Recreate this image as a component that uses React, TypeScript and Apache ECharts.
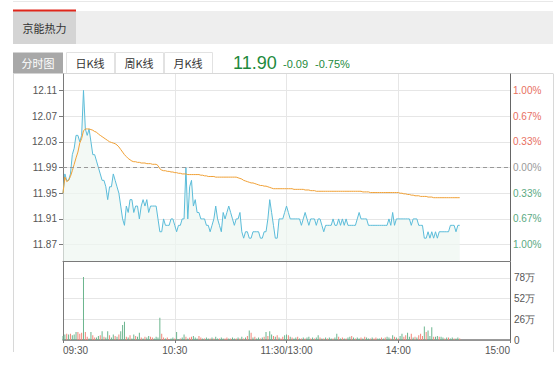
import React, { useEffect, useRef } from "react";
import * as echarts from "echarts";

const PREV_CLOSE = 11.99;
const SPAN = 0.1455;
const priceTicks = [11.87, 11.91, 11.95, 11.99, 12.03, 12.07, 12.11];
const volumeTicks = [0, 26, 52, 78];
const timeLabels = ["09:30", "10:30", "11:30/13:00", "14:00", "15:00"];
const tabs = ["分时图", "日K线", "周K线", "月K线"];

const prices = [
  11.95, 11.98, 11.97, 11.97, 11.98, 12.01, 12.02, 12.04, 12.04, 12.03,
  12.04, 12.11, 12.05, 12.04, 12.05, 12.03, 12.01, 12.01, 12.0, 11.99,
  11.98, 11.97, 11.97, 11.96, 11.94, 11.96, 11.96, 11.98, 11.97, 11.96,
  11.95, 11.93, 11.91, 11.9, 11.93, 11.92, 11.94, 11.94, 11.92, 11.93,
  11.93, 11.91, 11.93, 11.94, 11.93, 11.94, 11.92, 11.93, 11.93, 11.93,
  11.93, 11.91, 11.89, 11.89, 11.91, 11.9, 11.9, 11.9, 11.91, 11.91,
  11.9, 11.89, 11.9, 11.9, 11.91, 11.91, 11.99, 11.91, 11.96, 11.97,
  11.93, 11.94, 11.92, 11.92, 11.91, 11.91, 11.91, 11.9, 11.9, 11.89,
  11.9, 11.91, 11.93, 11.91, 11.9, 11.89, 11.92, 11.91, 11.92, 11.93,
  11.92, 11.91, 11.9, 11.91, 11.91, 11.92, 11.89, 11.88, 11.89, 11.89,
  11.88, 11.88, 11.89, 11.89, 11.89, 11.89, 11.88, 11.88, 11.89, 11.89,
  11.91, 11.94, 11.92, 11.9, 11.88, 11.88, 11.91, 11.91, 11.91, 11.92,
  11.93, 11.92, 11.91, 11.91, 11.91, 11.91, 11.91, 11.91, 11.9, 11.91,
  11.92, 11.91, 11.9, 11.91, 11.91, 11.91, 11.9, 11.91, 11.91, 11.9,
  11.89, 11.9, 11.9, 11.9, 11.9, 11.91, 11.9, 11.9, 11.91, 11.9,
  11.91, 11.9, 11.91, 11.9, 11.9, 11.9, 11.9, 11.9, 11.91, 11.92,
  11.91, 11.91, 11.91, 11.91, 11.9, 11.9, 11.9, 11.9, 11.9, 11.9,
  11.9, 11.9, 11.9, 11.9, 11.9, 11.91, 11.9, 11.92, 11.9, 11.91,
  11.91, 11.91, 11.91, 11.91, 11.91, 11.91, 11.91, 11.9, 11.91, 11.91,
  11.91, 11.9, 11.9, 11.9, 11.88, 11.88, 11.89, 11.88, 11.89, 11.88,
  11.89, 11.88, 11.89, 11.89, 11.89, 11.89, 11.89, 11.89, 11.9, 11.9,
  11.9, 11.89, 11.9, 11.9,
];

const avgPrices = [
  11.95, 11.975, 11.968, 11.97, 11.976, 11.985, 11.995, 12.005, 12.014, 12.028,
  12.035, 12.047, 12.05, 12.05, 12.05, 12.049, 12.048, 12.046, 12.045, 12.042,
  12.04, 12.038, 12.036, 12.034, 12.032, 12.03, 12.029, 12.028, 12.027, 12.025,
  12.022, 12.018, 12.014, 12.01, 12.007, 12.004, 12.002, 12.0, 11.999, 11.999,
  11.998, 11.998, 11.997, 11.997, 11.997, 11.996, 11.996, 11.996, 11.995, 11.995,
  11.995, 11.993, 11.988, 11.986, 11.985, 11.985, 11.984, 11.984, 11.983, 11.983,
  11.982, 11.982, 11.981, 11.981, 11.98, 11.98, 11.98, 11.979, 11.979, 11.979,
  11.979, 11.979, 11.979, 11.979, 11.978, 11.978, 11.977, 11.977, 11.976, 11.976,
  11.976, 11.976, 11.975, 11.975, 11.975, 11.975, 11.975, 11.975, 11.975, 11.975,
  11.975, 11.975, 11.975, 11.975, 11.974, 11.973, 11.972, 11.97, 11.969, 11.968,
  11.967, 11.966, 11.966, 11.965, 11.964, 11.963, 11.962, 11.962, 11.961, 11.961,
  11.96, 11.959, 11.958, 11.957, 11.957, 11.957, 11.957, 11.957, 11.957, 11.957,
  11.957, 11.957, 11.957, 11.957, 11.956, 11.956, 11.956, 11.956, 11.956, 11.956,
  11.955, 11.955, 11.955, 11.954, 11.954, 11.954, 11.953, 11.953, 11.953, 11.953,
  11.953, 11.953, 11.953, 11.953, 11.953, 11.953, 11.953, 11.953, 11.953, 11.953,
  11.953, 11.953, 11.953, 11.953, 11.953, 11.953, 11.953, 11.953, 11.953, 11.953,
  11.953, 11.952, 11.952, 11.952, 11.952, 11.951, 11.951, 11.951, 11.951, 11.951,
  11.951, 11.951, 11.951, 11.951, 11.951, 11.951, 11.951, 11.951, 11.951, 11.951,
  11.951, 11.95, 11.95, 11.949, 11.949, 11.948, 11.948, 11.947, 11.947, 11.946,
  11.946, 11.946, 11.945, 11.945, 11.945, 11.945, 11.944, 11.944, 11.944, 11.943,
  11.943, 11.943, 11.943, 11.943, 11.943, 11.943, 11.943, 11.943, 11.943, 11.943,
  11.943, 11.943, 11.943, 11.943,
];

// volume in 万
const volumes = [
  5, 7, 8, 7, 8, 6, 7, 10, 10, 8,
  9, 79, 10, 4, 2, 10, 6, 3, 3, 5,
  6, 11, 4, 3, 11, 6, 3, 7, 5, 4,
  7, 11, 19, 23, 4, 3, 6, 2, 7, 5,
  4, 9, 3, 2, 4, 3, 5, 4, 3, 2,
  4, 3, 28, 8, 3, 2, 3, 1, 2, 3,
  2, 10, 1, 2, 3, 7, 4, 2, 3, 4,
  5, 3, 2, 5, 3, 2, 2, 3, 2, 2,
  3, 2, 4, 2, 2, 3, 2, 2, 3, 2,
  2, 3, 2, 2, 3, 2, 4, 2, 3, 5,
  12, 9, 3, 4, 2, 3, 2, 3, 4, 10,
  5, 11, 7, 5, 4, 6, 3, 2, 4, 6,
  7, 6, 4, 3, 2, 3, 4, 2, 2, 3,
  2, 3, 4, 2, 3, 2, 3, 6, 3, 2,
  2, 3, 2, 3, 2, 2, 3, 8, 4, 2,
  3, 2, 2, 3, 4, 5, 3, 2, 3, 2,
  3, 2, 4, 3, 2, 2, 3, 2, 3, 2,
  2, 3, 2, 3, 4, 3, 2, 6, 4, 3,
  2, 5, 8, 4, 6, 9, 4, 8, 3, 4,
  3, 6, 8, 5, 17, 10, 12, 5, 16, 4,
  4, 5, 4, 4, 3, 2, 3, 3, 2, 3,
  2, 2, 3, 2,
];

// 1 = red (up), 0 = green (down)
const volumeUp = [
  0, 0, 1, 0, 1, 0, 0, 0, 1, 1,
  1, 0, 1, 1, 0, 0, 1, 1, 0, 0,
  1, 0, 1, 0, 0, 1, 0, 0, 1, 0,
  1, 0, 0, 0, 1, 0, 1, 0, 0, 1,
  0, 0, 1, 0, 1, 0, 0, 1, 1, 0,
  0, 0, 0, 1, 1, 0, 1, 1, 0, 0,
  1, 0, 0, 1, 0, 0, 1, 0, 1, 1,
  0, 0, 0, 1, 1, 0, 1, 0, 0, 1,
  0, 1, 0, 0, 1, 0, 0, 1, 1, 0,
  1, 0, 0, 1, 0, 1, 0, 1, 0, 1,
  0, 1, 0, 1, 0, 0, 1, 0, 1, 0,
  1, 0, 0, 1, 0, 1, 0, 1, 1, 0,
  0, 1, 0, 1, 0, 0, 1, 0, 1, 0,
  1, 0, 0, 1, 0, 1, 0, 0, 1, 0,
  1, 0, 1, 0, 0, 1, 0, 0, 1, 0,
  1, 0, 1, 0, 0, 1, 0, 1, 0, 0,
  1, 0, 1, 0, 0, 1, 0, 1, 1, 0,
  0, 1, 0, 1, 0, 0, 1, 0, 1, 0,
  1, 0, 0, 1, 1, 0, 0, 1, 0, 1,
  0, 1, 1, 1, 0, 1, 0, 0, 0, 1,
  0, 0, 1, 0, 0, 1, 0, 1, 0, 0,
  1, 0, 0, 1,
];

const pad = (n: number) => (n < 10 ? "0" + n : "" + n);
const categories: string[] = [];
for (let i = 0; i <= 240; i++) {
  const m = i <= 120 ? 9 * 60 + 30 + i : 13 * 60 + (i - 120);
  categories.push(pad(Math.floor(m / 60)) + ":" + pad(m % 60));
}

const LABEL_FONT = "Liberation Sans";
const CJK_FONT = "Noto Sans CJK SC";
const RED = "#e8705f";
const GREEN = "#5aa97f";
const GRID_LINE = "#e6e6e6";
const AXIS_LINE = "#7a7a7a";
const LABEL_SIZE = 10;

export default function App() {
  const ref = useRef<HTMLDivElement>(null);
  useEffect(() => {
    if (!ref.current) return;
    const chart = echarts.init(ref.current, undefined, { renderer: "svg" });
    const last = prices[prices.length - 1];
    const chg = last - PREV_CLOSE;
    const chgPct = (chg / PREV_CLOSE) * 100;
    const isMajor = (i: number) => i % 60 === 0;
    const isInner = (i: number) => i % 60 === 0 && i > 0 && i < 240;

    const pctLabel = (v: number) => {
      const p = ((v - PREV_CLOSE) / PREV_CLOSE) * 100;
      const txt = Math.abs(p).toFixed(2) + "%";
      if (p > 0.001) return "{up|" + txt + "}";
      if (p < -0.001) return "{down|" + txt + "}";
      return "{flat|" + txt + "}";
    };

    const tabX = [13, 66, 115, 164];
    const tabW = [50, 48, 48, 48];
    const tabGraphics: any[] = [];
    tabs.forEach((t, i) => {
      tabGraphics.push({
        type: "rect",
        shape: { x: tabX[i] + (i === 0 ? 0 : 0.5), y: 52.5, width: tabW[i], height: 21 },
        style: i === 0 ? { fill: "#a8a8a8" } : { fill: "#ffffff", stroke: "#e2e2e2", lineWidth: 1 },
      });
      tabGraphics.push({
        type: "text",
        style: {
          text: t,
          x: tabX[i] + tabW[i] / 2,
          y: 63,
          textAlign: "center",
          textVerticalAlign: "middle",
          fontSize: 11,
          fontFamily: CJK_FONT,
          fill: i === 0 ? "#ffffff" : "#333333",
        },
      });
    });

    const option: any = {
      animation: false,
      textStyle: { fontFamily: LABEL_FONT },
      graphic: [
        { type: "line", shape: { x1: 13, y1: 1.5, x2: 553, y2: 1.5 }, style: { stroke: "#e8e8e8", lineWidth: 1 } },
        { type: "rect", shape: { x: 13, y: 11, width: 540, height: 33 }, style: { fill: "#eeeeee" } },
        { type: "rect", shape: { x: 13, y: 11, width: 63, height: 33 }, style: { fill: "#d4d4d4" } },
        { type: "rect", shape: { x: 13, y: 9.5, width: 63, height: 2 }, style: { fill: "#e0261b" } },
        {
          type: "text",
          style: {
            text: "京能热力", x: 44.5, y: 28, textAlign: "center", textVerticalAlign: "middle",
            fontSize: 11, fontFamily: CJK_FONT, fill: "#333333",
          },
        },
        ...tabGraphics,
        {
          type: "text",
          style: {
            text: last.toFixed(2), x: 233, y: 63, textAlign: "left", textVerticalAlign: "middle",
            fontSize: 18, fontFamily: LABEL_FONT, fill: "#1d8a3c",
          },
        },
        {
          type: "text",
          style: {
            text: chg.toFixed(2), x: 283, y: 64, textAlign: "left", textVerticalAlign: "middle",
            fontSize: 11, fontFamily: LABEL_FONT, fill: "#1d8a3c",
          },
        },
        {
          type: "text",
          style: {
            text: chgPct.toFixed(2) + "%", x: 315, y: 64, textAlign: "left", textVerticalAlign: "middle",
            fontSize: 11, fontFamily: LABEL_FONT, fill: "#1d8a3c",
          },
        },
        { type: "line", shape: { x1: 63, y1: 73.5, x2: 553, y2: 73.5 }, style: { stroke: "#d8d8d8", lineWidth: 1 } },
        { type: "line", shape: { x1: 13.5, y1: 73.5, x2: 13.5, y2: 352 }, style: { stroke: "#d8d8d8", lineWidth: 1 } },
        { type: "line", shape: { x1: 553.5, y1: 73.5, x2: 553.5, y2: 352 }, style: { stroke: "#d8d8d8", lineWidth: 1 } },
      ],
      grid: [
        { left: 63, top: 74, width: 447, height: 187 },
        { left: 63, top: 262, width: 447, height: 78 },
      ],
      xAxis: [
        {
          type: "category", gridIndex: 0, data: categories, boundaryGap: false,
          axisLine: { show: true, lineStyle: { color: AXIS_LINE } },
          axisTick: { show: false },
          axisLabel: { show: false },
          splitLine: { show: true, interval: (i: number) => isInner(i), lineStyle: { color: GRID_LINE } },
        },
        {
          type: "category", gridIndex: 1, data: categories, boundaryGap: false,
          axisLine: { show: true, lineStyle: { color: AXIS_LINE, width: 1.5 } },
          axisTick: { show: true, interval: (i: number) => isMajor(i), length: 3, lineStyle: { color: AXIS_LINE } },
          axisLabel: {
            show: true,
            interval: (i: number) => isMajor(i),
            formatter: (_v: string, i: number) => timeLabels[Math.round(i / 60)] ?? "",
            color: "#555555", fontSize: LABEL_SIZE, fontFamily: LABEL_FONT, margin: 5,
            showMinLabel: true, showMaxLabel: true,
            alignMinLabel: "left", alignMaxLabel: "right",
          },
          splitLine: { show: true, interval: (i: number) => isInner(i), lineStyle: { color: GRID_LINE } },
        },
      ],
      yAxis: [
        {
          type: "value", gridIndex: 0, position: "left",
          min: PREV_CLOSE - SPAN, max: PREV_CLOSE + SPAN,
          axisLine: { show: true, lineStyle: { color: AXIS_LINE } },
          axisTick: { show: true, length: 4, customValues: priceTicks, lineStyle: { color: AXIS_LINE } },
          axisLabel: {
            customValues: priceTicks, formatter: (v: number) => v.toFixed(2),
            color: "#555555", fontSize: LABEL_SIZE, fontFamily: LABEL_FONT, margin: 6,
          },
          splitLine: { show: true, lineStyle: { color: GRID_LINE } },
        },
        {
          type: "value", gridIndex: 0, position: "right",
          min: PREV_CLOSE - SPAN, max: PREV_CLOSE + SPAN,
          axisLine: { show: true, lineStyle: { color: "#666666" } },
          axisTick: { show: false, customValues: priceTicks },
          axisLabel: {
            customValues: priceTicks, formatter: pctLabel, margin: 3,
            rich: {
              up: { color: RED, fontSize: LABEL_SIZE, fontFamily: LABEL_FONT },
              down: { color: GREEN, fontSize: LABEL_SIZE, fontFamily: LABEL_FONT },
              flat: { color: "#999999", fontSize: LABEL_SIZE, fontFamily: LABEL_FONT },
            },
          },
          splitLine: { show: false },
        },
        {
          type: "value", gridIndex: 1, position: "left", min: 0, max: 98,
          axisLine: { show: true, lineStyle: { color: AXIS_LINE } },
          axisTick: { show: false, customValues: volumeTicks },
          axisLabel: { show: false, customValues: volumeTicks },
          splitLine: { show: true, lineStyle: { color: GRID_LINE } },
        },
        {
          type: "value", gridIndex: 1, position: "right", min: 0, max: 98,
          axisLine: { show: true, lineStyle: { color: "#666666" } },
          axisTick: { show: false, customValues: volumeTicks },
          axisLabel: {
            customValues: volumeTicks,
            formatter: (v: number) => (v === 0 ? "0" : v + "万"),
            color: "#555555", fontSize: LABEL_SIZE, fontFamily: LABEL_FONT, margin: 4,
          },
          splitLine: { show: false },
        },
      ],
      series: [
        {
          type: "line", xAxisIndex: 0, yAxisIndex: 0, data: prices,
          showSymbol: false, silent: true,
          lineStyle: { color: "#5bbcd9", width: 1 },
          areaStyle: { color: "#eef6f1", origin: "start" },
          markLine: {
            silent: true, symbol: "none", label: { show: false },
            lineStyle: { color: "#999999", type: [4, 3], width: 1 },
            data: [{ yAxis: PREV_CLOSE }],
          },
        },
        {
          type: "line", xAxisIndex: 0, yAxisIndex: 0, data: avgPrices,
          showSymbol: false, silent: true,
          lineStyle: { color: "#f0a035", width: 1 },
        },
        {
          type: "bar", xAxisIndex: 1, yAxisIndex: 2, barWidth: 1, silent: true,
          data: volumes.map((v, i) => ({
            value: v,
            itemStyle: { color: volumeUp[i] ? "#f2877a" : "#6bb58e" },
          })),
        },
      ],
    };
    chart.setOption(option);
    return () => chart.dispose();
  }, []);
  return (
    <div
      ref={ref}
      style={{ position: "absolute", left: 0, top: 0, width: 560, height: 368, background: "#ffffff" }}
    />
  );
}
